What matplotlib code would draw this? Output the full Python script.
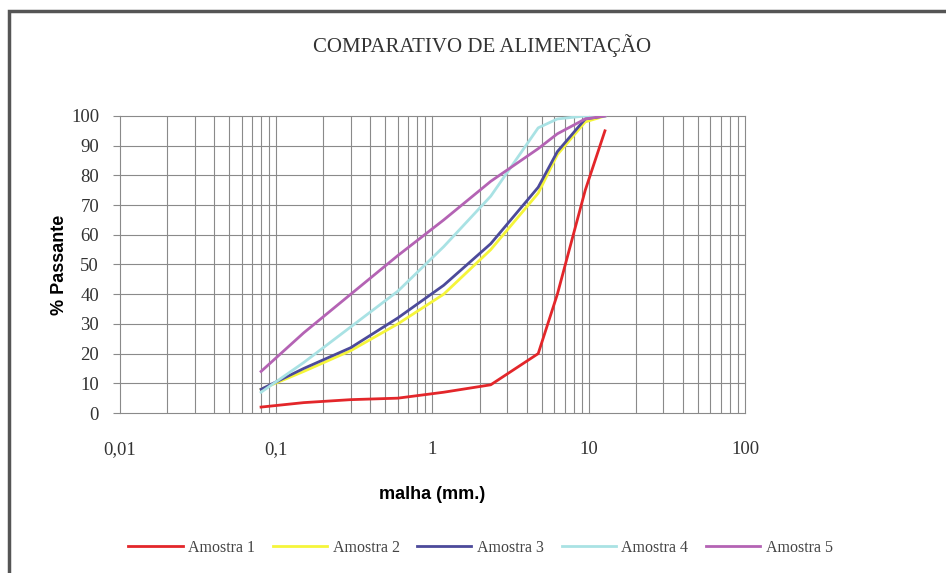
import numpy as np
import matplotlib.pyplot as plt
from matplotlib.patches import Rectangle
from matplotlib.ticker import FixedLocator, FixedFormatter, LogLocator, NullFormatter

# sieve openings (mm) and % passing for each sample
malha = [0.08, 0.15, 0.3, 0.6, 1.18, 2.36, 4.75, 6.3, 9.5, 12.7]
amostra_1 = [2, 3.5, 4.5, 5, 7, 9.5, 20, 40, 75, 95]
amostra_2 = [8, 14, 21, 30, 40, 55, 74, 87, 98, 100]
amostra_3 = [8, 15, 22, 32, 43, 57, 76, 88, 99, 100]
amostra_4 = [7, 17, 29, 41, 56, 73, 96, 99, 100, 100]
amostra_5 = [14, 27, 40, 53, 65, 78, 89, 94, 99, 100]

series = [amostra_1, amostra_2, amostra_3, amostra_4, amostra_5]
names = ['Amostra 1', 'Amostra 2', 'Amostra 3', 'Amostra 4', 'Amostra 5']
colors = ['#e3262a', '#f5f53a', '#4c4a9a', '#a9e2e4', '#b463b4']

x_ticks = [0.01, 0.1, 1, 10, 100]
x_labels = ['0,01', '0,1', '1', '10', '100']

fig = plt.figure(figsize=(9.46, 5.73), dpi=100)
ax = fig.add_axes([0.1268, 0.2792, 0.6607, 0.5184])

for vals, name, c in zip(series, names, colors):
    ax.plot(malha, vals, color=c, lw=2.0, label=name)

ax.set_xscale('log')
ax.set_xlim(0.01, 100)
ax.set_ylim(0, 100)
ax.xaxis.set_major_locator(FixedLocator(x_ticks))
ax.xaxis.set_major_formatter(FixedFormatter(x_labels))
ax.xaxis.set_minor_locator(LogLocator(base=10, subs=np.arange(2, 10)))
ax.xaxis.set_minor_formatter(NullFormatter())
ax.set_yticks(np.arange(0, 101, 10))

ax.grid(True, which='both', axis='x', color='#8a8a8a', lw=0.8)
ax.grid(True, which='major', axis='y', color='#8a8a8a', lw=0.8)
for gl in ax.get_xgridlines() + ax.get_ygridlines():
    gl.set_clip_on(False)
ax.set_axisbelow(True)
for s in ax.spines.values():
    s.set_visible(False)
ax.tick_params(axis='x', which='both', length=0, pad=20)
ax.tick_params(axis='y', length=5, color='#8a8a8a', pad=10)
for lab in ax.get_xticklabels() + ax.get_yticklabels():
    lab.set_family('Liberation Serif')
    lab.set_fontsize(13.5)
    lab.set_color('#333333')

ax.set_xlabel('malha (mm.)', family='Liberation Sans', fontweight='bold',
              fontsize=13, labelpad=20)
ax.set_ylabel('% Passante', family='Liberation Sans', fontweight='bold',
              fontsize=13, labelpad=2)

fig.text(0.51, 0.921, 'COMPARATIVO DE ALIMENTAÇÃO', ha='center', va='center',
         family='Liberation Serif', fontsize=15, color='#333333')

leg = fig.legend(loc='center', bbox_to_anchor=(0.508, 0.044), ncol=5,
                 frameon=False, handlelength=3.4, columnspacing=1.1,
                 handletextpad=0.35, prop={'family': 'Liberation Serif', 'size': 11.5})
for t in leg.get_texts():
    t.set_color('#444444')

# outer frame of the chart area
fig.patches.append(Rectangle((0.009, -0.02), 1.1, 1.0, transform=fig.transFigure,
                             fill=False, ec='#555555', lw=2.5))

fig.savefig('out.png', dpi=100)
